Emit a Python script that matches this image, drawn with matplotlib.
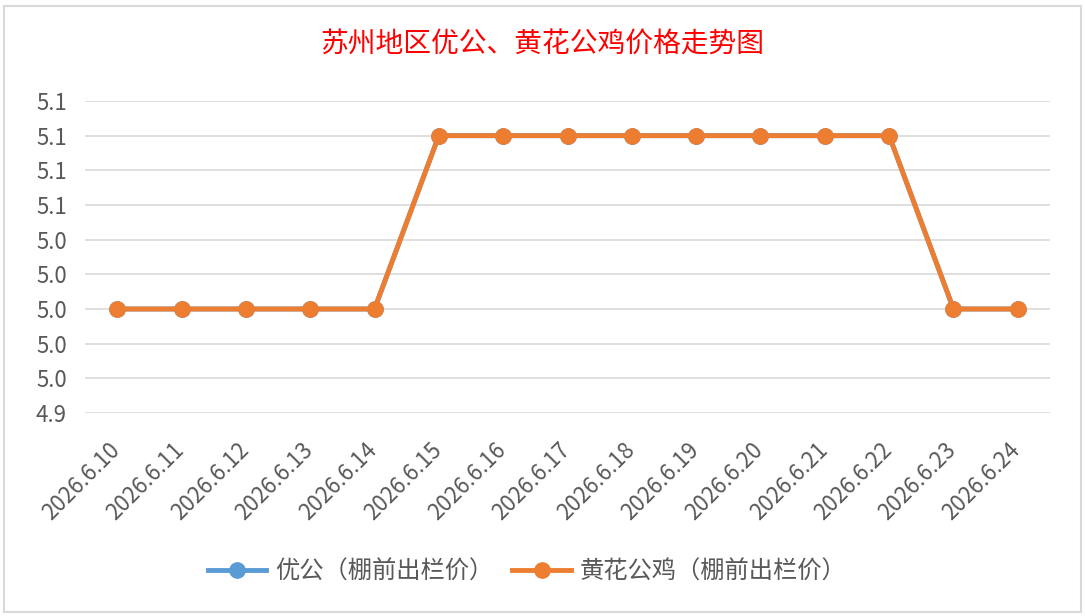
import matplotlib.pyplot as plt
from matplotlib.patches import Rectangle
from matplotlib.ticker import MultipleLocator, FormatStrFormatter
from matplotlib.transforms import ScaledTranslation

plt.rcParams['font.family'] = ['Noto Sans CJK SC', 'DejaVu Sans']

TITLE = '苏州地区优公、黄花公鸡价格走势图'
dates = ['2026.6.10', '2026.6.11', '2026.6.12', '2026.6.13', '2026.6.14',
         '2026.6.15', '2026.6.16', '2026.6.17', '2026.6.18', '2026.6.19',
         '2026.6.20', '2026.6.21', '2026.6.22', '2026.6.23', '2026.6.24']
youbai = [5.0, 5.0, 5.0, 5.0, 5.0, 5.1, 5.1, 5.1, 5.1, 5.1, 5.1, 5.1, 5.1, 5.0, 5.0]
huanghua = [5.0, 5.0, 5.0, 5.0, 5.0, 5.1, 5.1, 5.1, 5.1, 5.1, 5.1, 5.1, 5.1, 5.0, 5.0]
labels = ['优公（棚前出栏价）', '黄花公鸡（棚前出栏价）']

GRAY_TEXT = '#595959'

fig = plt.figure(figsize=(10.85, 6.16), dpi=100)
fig.patches.append(Rectangle((4 / 1085, 4 / 616), 1077 / 1085, 606 / 616,
                             transform=fig.transFigure, fill=False,
                             edgecolor='#D9D9D9', linewidth=1.5))

ax = fig.add_axes([85 / 1085, 1 - 413 / 616, 965 / 1085, 312 / 616])
x = list(range(len(dates)))
ax.plot(x, youbai, color='#5B9BD5', linewidth=3.5, marker='o', markersize=11,
        label=labels[0], zorder=3)
ax.plot(x, huanghua, color='#ED7D31', linewidth=3.5, marker='o', markersize=11,
        label=labels[1], zorder=4)

ax.set_xlim(-0.5, len(dates) - 0.5)
ax.set_ylim(4.94, 5.12)
ax.yaxis.set_major_locator(MultipleLocator(0.02))
ax.yaxis.set_major_formatter(FormatStrFormatter('%.1f'))
ax.grid(axis='y', color='#D9D9D9', linewidth=1.2)
ax.set_axisbelow(True)
for s in ax.spines.values():
    s.set_visible(False)
ax.tick_params(axis='both', length=0, labelsize=16, labelcolor=GRAY_TEXT)
ax.tick_params(axis='y', pad=13)
ax.set_xticks(x)
ax.set_xticklabels(dates, rotation=45, ha='right', va='top',
                   rotation_mode='anchor')
ax.tick_params(axis='x', pad=18)
shift = ScaledTranslation(-9 / 100, 0, fig.dpi_scale_trans)
for lbl in ax.get_xticklabels():
    lbl.set_transform(lbl.get_transform() + shift)

fig.text(0.5, 1 - 45 / 616, TITLE, color='#FF0000', fontsize=20,
         ha='center', va='center')

fig.legend(loc='center', bbox_to_anchor=(527 / 1085, 1 - 572 / 616), ncol=2,
           frameon=False, fontsize=17.5, labelcolor=GRAY_TEXT,
           handlelength=2.4, columnspacing=0.8, handletextpad=0.35)

fig.savefig('out.png', dpi=100)
